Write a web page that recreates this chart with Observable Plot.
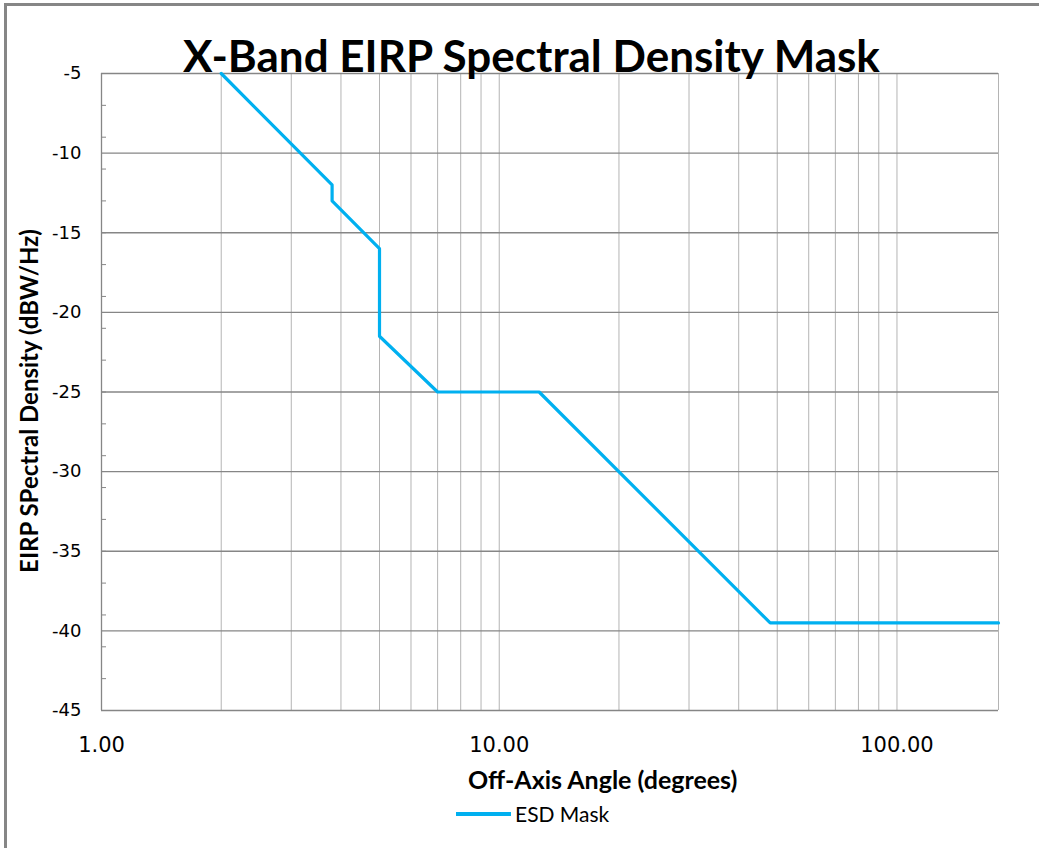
<!DOCTYPE html>
<html>
<head>
<meta charset="utf-8">
<script src="https://cdn.jsdelivr.net/npm/d3@7"></script>
<script src="https://cdn.jsdelivr.net/npm/@observablehq/plot@0.6"></script>
<style>
  html, body { margin: 0; padding: 0; background: #fff; }
  #wrap { position: relative; width: 1039px; height: 848px; overflow: hidden; background: #fff; }
  #frame { position: absolute; left: 4px; top: 3px; width: 1100px; height: 900px;
           border-top: 3px solid #868686; border-left: 3px solid #868686; }
  #chart { position: absolute; left: 0; top: 0; }
  .t { position: absolute; white-space: nowrap; color: #000; }
  #title { left: 183px; top: 33px; font: bold 44px Lato, sans-serif; line-height: 44px; }
  #xlabel { left: 468px; top: 765px; font: bold 25px Lato, sans-serif; line-height: 28px; }
  #ylabel { left: 29px; top: 401px; font: bold 24px Lato, sans-serif; line-height: 28px;
            transform: translate(-50%, -50%) rotate(-90deg); }
  #legend { left: 456px; top: 802px; font: 21px Lato, sans-serif; line-height: 24px; display: flex; align-items: center; }
  #legend .sw { width: 55px; height: 3.5px; background: #00b0f0; margin-right: 4px; }
</style>
</head>
<body>
<div id="wrap">
  <div id="frame"></div>
  <div id="chart"></div>
  <div class="t" id="title">X-Band EIRP Spectral Density Mask</div>
  <div class="t" id="xlabel">Off-Axis Angle (degrees)</div>
  <div class="t" id="ylabel">EIRP SPectral Density (dBW/Hz)</div>
  <div class="t" id="legend"><span class="sw"></span><span>ESD Mask</span></div>
</div>
<script>
// Data
const angles = [2, 3.8, 3.8, 5, 5, 7, 12.6, 48, 180];
const esd    = [-5, -12, -13, -16, -21.5, -25, -25, -39.5, -39.5];

// Axis ticks
const xMajorTicks = [1, 10, 100];
const xMinorGrid  = [2, 3, 4, 5, 6, 7, 8, 9, 10, 20, 30, 40, 50, 60, 70, 80, 90, 100];
const yMajorTicks = [-45, -40, -35, -30, -25, -20, -15, -10, -5];
const yMinorTicks = [-43, -41, -39, -37, -35, -33, -31, -29, -27, -25, -23, -21, -19, -17, -15, -13, -11, -9, -7];

const series = angles.map((a, i) => ({angle: a, esd: esd[i]}));

const chart = Plot.plot({
  width: 1039,
  height: 760,
  marginTop: 73,
  marginLeft: 101,
  marginRight: 41,
  marginBottom: 50,
  style: {background: "transparent", overflow: "visible"},
  x: {type: "log", domain: [1, 180]},
  y: {domain: [-45, -5]},
  marks: [
    Plot.ruleX(xMinorGrid, {stroke: "#b4b4b4", strokeWidth: 1}),
    Plot.ruleX([180], {stroke: "#b4b4b4", strokeWidth: 1}),
    Plot.ruleY(yMajorTicks.filter(d => d > -45), {stroke: "#868686", strokeWidth: 1.3}),
    Plot.ruleX([1], {stroke: "#868686", strokeWidth: 1.3}),
    Plot.ruleY([-45], {stroke: "#868686", strokeWidth: 1.5}),
    Plot.axisY({ticks: yMinorTicks, tickSize: 5, dx: 5, tickFormat: () => "", stroke: "#868686", label: null}),
    Plot.axisY({ticks: yMajorTicks, tickSize: 0, tickPadding: 20, fontSize: 18,
                fontFamily: "DejaVu Sans", fill: "#000", label: null, tickFormat: d => String(d)}),
    Plot.axisX({ticks: xMajorTicks, tickSize: 0, tickPadding: 27, fontSize: 21,
                fontFamily: "DejaVu Sans", fill: "#000", label: null, tickFormat: d3.format(".2f")}),
    Plot.line(series, {x: "angle", y: "esd", stroke: "#00b0f0", strokeWidth: 3.2, curve: "linear"})
  ]
});
document.getElementById("chart").appendChild(chart);
</script>
</body>
</html>
